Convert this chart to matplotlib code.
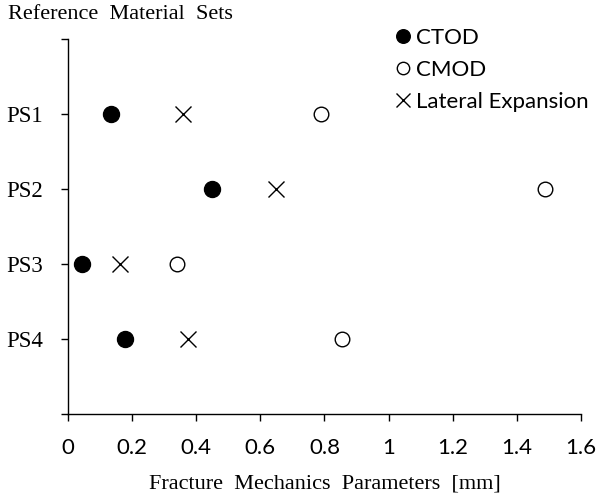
import matplotlib
matplotlib.use("Agg")
import matplotlib.pyplot as plt

# reference material sets and measured fracture mechanics parameters [mm]
sets = ["PS1", "PS2", "PS3", "PS4"]
ctod = [0.133, 0.448, 0.045, 0.178]
cmod = [0.788, 1.488, 0.341, 0.854]
lateral_expansion = [0.360, 0.649, 0.162, 0.375]
x_ticks = [0, 0.2, 0.4, 0.6, 0.8, 1, 1.2, 1.4, 1.6]
x_tick_labels = ["0", "0.2", "0.4", "0.6", "0.8", "1", "1.2", "1.4", "1.6"]

serif = "Liberation Serif"
sans = "Lato"

fig = plt.figure(figsize=(5.97, 4.95), dpi=100)
ax = fig.add_axes([0.1139, 0.1636, 0.8593, 0.7576])

pos = list(range(1, len(sets) + 1))
ax.plot(ctod, pos, "o", color="black", markersize=11.5, linestyle="none", label="CTOD")
ax.plot(cmod, pos, "o", markerfacecolor="white", markeredgecolor="black",
        markeredgewidth=1.0, markersize=10.5, linestyle="none", label="CMOD")
ax.plot(lateral_expansion, pos, "x", color="black", markeredgewidth=1.0,
        markersize=12, linestyle="none", label="Lateral Expansion")

ax.set_xlim(0, 1.6)
ax.set_ylim(len(sets) + 1, 0)
ax.set_xticks(x_ticks)
ax.set_xticklabels(x_tick_labels, fontfamily=sans, fontsize=16)
ax.set_yticks(range(0, len(sets) + 2))
ax.set_yticklabels([""] + sets + [""], fontfamily=serif, fontsize=16.5)

for side in ("top", "right"):
    ax.spines[side].set_visible(False)
for side in ("left", "bottom"):
    ax.spines[side].set_linewidth(1.0)
ax.tick_params(axis="x", direction="out", length=5, width=1.0, pad=12)
ax.tick_params(axis="y", direction="out", length=5, width=1.0, pad=13)

ax.set_xlabel("Fracture  Mechanics  Parameters  [mm]", fontfamily=serif,
              fontsize=16, labelpad=12)
fig.text(0.013, 0.99, "Reference  Material  Sets", fontfamily=serif,
         fontsize=16, ha="left", va="top")

leg = ax.legend(loc="upper left", bbox_to_anchor=(0.66, 0.944),
                bbox_transform=fig.transFigure, frameon=False,
                prop={"family": sans, "size": 16}, handlelength=0.8,
                handletextpad=0.2, labelspacing=0.55, borderpad=0,
                borderaxespad=0, markerscale=0.85)

fig.savefig("out.png", dpi=100)
